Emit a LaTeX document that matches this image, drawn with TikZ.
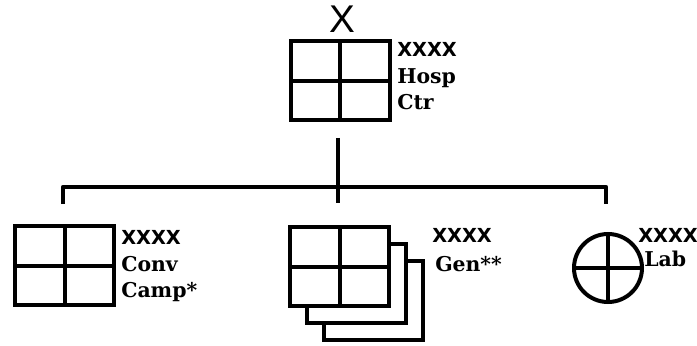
\documentclass[tikz,border=0pt]{standalone}
\usepackage{fontspec}
\setmainfont{DejaVu Serif}
\newfontfamily\xxfont{DejaVu Sans}
\newfontfamily\bigxfont{Liberation Sans}
\begin{document}
\begin{tikzpicture}[x=0.75pt,y=-0.75pt,
  unitbox/.style={draw=black,line width=3pt,fill=white,minimum width=74.25pt,minimum height=59.25pt,inner sep=0pt,outer sep=0pt},
  conn/.style={draw=black,line width=3.4pt},
  xxlab/.style={anchor=base west,inner sep=0pt,font=\xxfont\bfseries\fontsize{14.5}{16}\selectfont},
  namelab/.style={anchor=base west,inner sep=0pt,font=\bfseries\fontsize{15.3}{17}\selectfont}]
\useasboundingbox (0,0) rectangle (697,346);
% top unit
\node[unitbox] (hq) at (340,81) {};
\draw[line width=3pt] (hq.north) -- (hq.south) (hq.west) -- (hq.east);
\node[anchor=base,inner sep=0pt,font=\bigxfont\fontsize{29}{30}\selectfont] (hqx) at (342,33) {X};
\node[xxlab] (hqa) at (397,57) {XXXX};
\node[namelab] (hqb) at (397,84) {Hosp};
\node[namelab] (hqc) at (397,110) {Ctr};
% connectors
\coordinate (ctop) at (338,138);
\coordinate (cbot) at (338,203);
\coordinate (lbot) at (63,204);
\coordinate (rbot) at (606,204);
\coordinate (lbar) at (63,187);
\coordinate (rbar) at (606,187);
\draw[conn] (ctop) -- (cbot);
\draw[conn,line join=round] (lbot) -- (lbar) -- (rbar) -- (rbot);
% left unit
\node[unitbox] (conv) at (64.5,265.5) {};
\draw[line width=3pt] (conv.north) -- (conv.south) (conv.west) -- (conv.east);
\node[xxlab] (conva) at (121,244) {XXXX};
\node[namelab] (convb) at (121,272) {Conv};
\node[namelab] (convc) at (121,297) {Camp*};
% middle unit (stacked)
\node[unitbox] (gen3) at (373.5,300.5) {};
\node[unitbox] (gen2) at (356.5,283.5) {};
\node[unitbox] (gen) at (339.5,266.5) {};
\draw[line width=3pt] (gen.north) -- (gen.south) (gen.west) -- (gen.east);
\node[xxlab] (gena) at (432,243) {XXXX};
\node[namelab] (genb) at (435,272) {Gen**};
% right unit
\node[circle,draw=black,line width=3pt,minimum size=51pt,inner sep=0pt,outer sep=0pt] (lab) at (608,268) {};
\draw[line width=3pt] (lab.north) -- (lab.south) (lab.west) -- (lab.east);
\node[xxlab] (laba) at (638,242) {XXXX};
\node[namelab] (labb) at (644,267) {Lab};
\end{tikzpicture}
\end{document}
